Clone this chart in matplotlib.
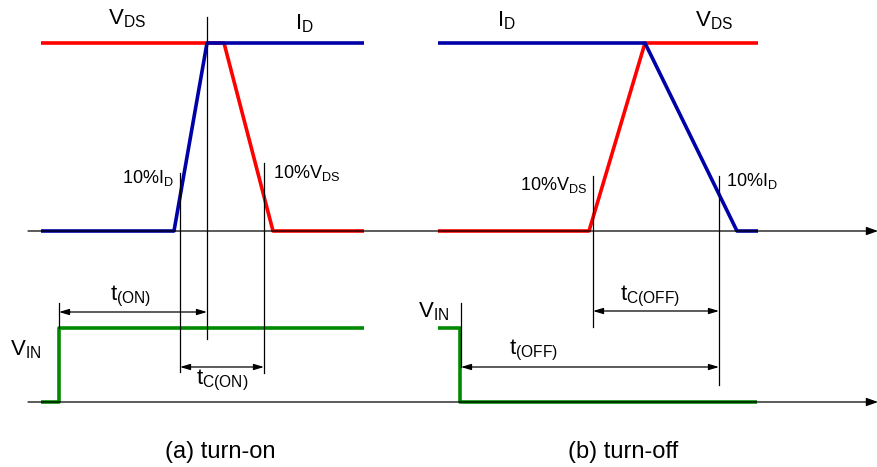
import matplotlib.pyplot as plt

plt.rcParams['font.family'] = 'Liberation Sans'
plt.rcParams['mathtext.fontset'] = 'custom'
plt.rcParams['mathtext.rm'] = 'Liberation Sans'
plt.rcParams['mathtext.it'] = 'Liberation Sans'

# waveform breakpoints (pixel units, y grows downwards)
HI, LO = 43, 231          # top level / baseline of the switching plot
VIN_HI, VIN_LO = 328, 402  # gate drive levels

# (a) turn-on
on_vds_x = [41, 224, 273, 364]
on_vds_y = [HI, HI, LO, LO]
on_id_x = [41, 174, 207, 364]
on_id_y = [LO, LO, HI, HI]
on_vin_x = [41, 59, 59, 364]
on_vin_y = [VIN_LO, VIN_LO, VIN_HI, VIN_HI]

# (b) turn-off
off_id_x = [438, 645, 737, 758]
off_id_y = [HI, HI, LO, LO]
off_vds_x = [438, 589, 645, 758]
off_vds_y = [LO, LO, HI, HI]
off_vin_x = [438, 460, 460, 757]
off_vin_y = [VIN_HI, VIN_HI, VIN_LO, VIN_LO]

# marker lines: x, y_top, y_bottom
markers = [(207, 17, 339), (180, 173, 372), (264, 163, 373), (59, 303, 328),
           (593, 176, 327), (719, 176, 385), (461, 303, 367)]

# dimension arrows: x0, x1, y
dims = [(59, 207, 312), (180, 264, 367), (593, 719, 311), (461, 719, 367)]

RED, BLUE, GREEN = '#ff0000', '#0000a8', '#008a00'

fig = plt.figure(figsize=(8.78, 4.67), dpi=100)
ax = fig.add_axes([0, 0, 1, 1])
ax.set_xlim(0, 878)
ax.set_ylim(467, 0)
ax.axis('off')

# time axes
for y in (LO, VIN_LO):
    ax.annotate('', xy=(878, y), xytext=(28, y),
                arrowprops=dict(arrowstyle='-|>,head_length=0.7,head_width=0.25',
                                color='black', lw=0.9, shrinkA=0, shrinkB=0))

lw = 2.6
ax.plot(on_vds_x, on_vds_y, color=RED, lw=lw, solid_capstyle='butt')
ax.plot(on_id_x, on_id_y, color=BLUE, lw=lw, solid_capstyle='butt')
ax.plot(on_vin_x, on_vin_y, color=GREEN, lw=lw, solid_capstyle='butt')
ax.plot(off_vds_x, off_vds_y, color=RED, lw=lw, solid_capstyle='butt')
ax.plot(off_id_x, off_id_y, color=BLUE, lw=lw, solid_capstyle='butt')
ax.plot(off_vin_x, off_vin_y, color=GREEN, lw=lw, solid_capstyle='butt')

for x, y0, y1 in markers:
    ax.plot([x, x], [y0, y1], color='black', lw=0.9)

for x0, x1, y in dims:
    ax.annotate('', xy=(x1, y), xytext=(x0, y),
                arrowprops=dict(arrowstyle='<|-|>,head_length=0.6,head_width=0.18',
                                color='black', lw=0.9, shrinkA=0, shrinkB=0))

big, small = 16, 13
ax.text(108, 24, r'$\mathrm{V_{DS}}$', fontsize=big, va='baseline')
ax.text(295, 29, r'$\mathrm{I_{D}}$', fontsize=big, va='baseline')
ax.text(497, 26, r'$\mathrm{I_{D}}$', fontsize=big, va='baseline')
ax.text(695, 26, r'$\mathrm{V_{DS}}$', fontsize=big, va='baseline')

ax.text(122, 183, r'$\mathrm{10\%I_{D}}$', fontsize=small, va='baseline')
ax.text(273, 178, r'$\mathrm{10\%V_{DS}}$', fontsize=small, va='baseline')
ax.text(520, 190, r'$\mathrm{10\%V_{DS}}$', fontsize=small, va='baseline')
ax.text(726, 186, r'$\mathrm{10\%I_{D}}$', fontsize=small, va='baseline')

ax.text(10, 355, r'$\mathrm{V_{IN}}$', fontsize=big, va='baseline')
ax.text(418, 317, r'$\mathrm{V_{IN}}$', fontsize=big, va='baseline')

ax.text(110, 300, r'$\mathrm{t_{(ON)}}$', fontsize=big, va='baseline')
ax.text(196, 384, r'$\mathrm{t_{C(ON)}}$', fontsize=big, va='baseline')
ax.text(620, 300, r'$\mathrm{t_{C(OFF)}}$', fontsize=big, va='baseline')
ax.text(509, 354, r'$\mathrm{t_{(OFF)}}$', fontsize=big, va='baseline')

ax.text(220, 458, '(a) turn-on', fontsize=17, ha='center', va='baseline')
ax.text(623, 458, '(b) turn-off', fontsize=17, ha='center', va='baseline')

fig.savefig('out.png', dpi=100)
